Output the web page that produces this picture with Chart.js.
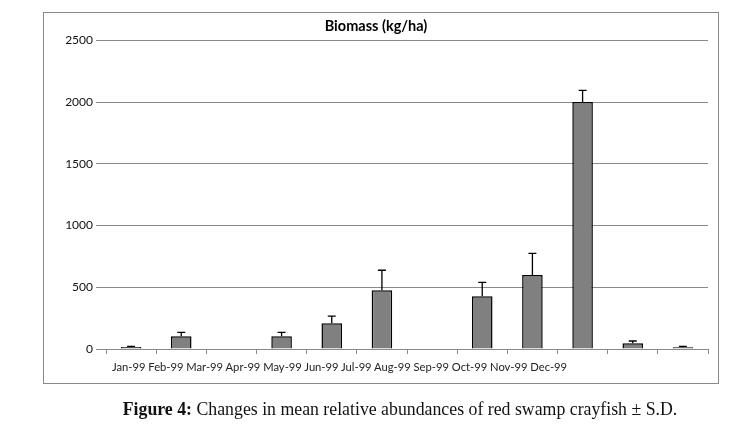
<!DOCTYPE html>
<html>
<head>
<meta charset="utf-8">
<script src="https://cdn.jsdelivr.net/npm/chart.js@4.4.1/dist/chart.umd.min.js"></script>
<style>
  html, body { margin: 0; padding: 0; background: #fff; }
  #wrap { position: relative; width: 756px; height: 436px; overflow: hidden; }
  #frame { position: absolute; left: 43px; top: 12px; width: 674px; height: 370px; border: 1px solid #8a8a8a; }
  #c { position: absolute; left: 0; top: 0; }
  #xlabels { position: absolute; left: 112px; top: 360px; font: 11.2px Lato, "Open Sans", sans-serif; color: #222; white-space: pre; }
  #caption { position: absolute; left: 0; width: 800px; top: 399px; text-align: center; font: 17.8px "Liberation Serif", "DejaVu Serif", serif; color: #111; }
</style>
</head>
<body>
<div id="wrap">
  <div id="frame"></div>
  <canvas id="c" width="756" height="436"></canvas>
  <div id="xlabels"></div>
  <div id="caption"><b>Figure 4:</b> Changes in mean relative abundances of red swamp crayfish ± S.D.</div>
</div>
<script>
const categories = ["Jan-99","Feb-99","Mar-99","Apr-99","May-99","Jun-99","Jul-99","Aug-99","Sep-99","Oct-99","Nov-99","Dec-99"];
const biomassMean = [16, 103, 0, 103, 208, 475, 0, 427, 600, 2000, 46, 14];
const biomassSD   = [6, 32, 0, 32, 59, 163, 0, 113, 175, 95, 19, 8];
const yTicks = [0, 500, 1000, 1500, 2000, 2500];

document.getElementById('xlabels').textContent = categories.join(' ');

const errorBars = {
  id: 'errorBars',
  afterDatasetsDraw(chart) {
    const ctx = chart.ctx;
    const meta = chart.getDatasetMeta(0);
    const y = chart.scales.y;
    ctx.save();
    ctx.strokeStyle = '#000';
    ctx.lineWidth = 1.3;
    meta.data.forEach((bar, i) => {
      const sd = biomassSD[i];
      if (!sd) return;
      const y0 = y.getPixelForValue(biomassMean[i]);
      const y1 = y.getPixelForValue(biomassMean[i] + sd);
      ctx.beginPath();
      ctx.moveTo(bar.x, y0);
      ctx.lineTo(bar.x, y1);
      ctx.moveTo(bar.x - 4, y1);
      ctx.lineTo(bar.x + 4, y1);
      ctx.stroke();
    });
    ctx.restore();
  }
};

new Chart(document.getElementById('c'), {
  type: 'bar',
  data: {
    labels: categories,
    datasets: [{
      data: biomassMean,
      backgroundColor: '#808080',
      borderColor: '#000',
      borderWidth: 1.5,
      categoryPercentage: 1,
      barPercentage: 0.41
    }]
  },
  options: {
    responsive: false,
    animation: false,
    layout: { padding: { left: 44, right: 48, top: 12, bottom: 53 } },
    plugins: {
      legend: { display: false },
      tooltip: { enabled: false },
      title: {
        display: true,
        text: 'Biomass (kg/ha)',
        color: '#000',
        font: { family: 'Lato, "Open Sans", sans-serif', size: 14.5, weight: 'bold' },
        padding: { top: 6, bottom: 5 }
      }
    },
    scales: {
      x: {
        grid: { display: true, drawOnChartArea: false, drawTicks: true, tickLength: 5, color: '#8a8a8a', offset: true },
        border: { display: true, color: '#8a8a8a', width: 1 },
        ticks: { display: false },
        afterFit(s) { s.height = 34; }
      },
      y: {
        min: 0, max: 2500,
        afterBuildTicks(s) { s.ticks = yTicks.map(v => ({ value: v })); },
        grid: { color: '#8a8a8a', tickLength: 10, drawTicks: true },
        border: { display: false },
        ticks: { color: '#111', padding: 3, font: { family: 'Lato, "Open Sans", sans-serif', size: 12 }, callback: v => String(v) },
        afterFit(s) { s.width = 62; }
      }
    }
  },
  plugins: [errorBars]
});
</script>
</body>
</html>
